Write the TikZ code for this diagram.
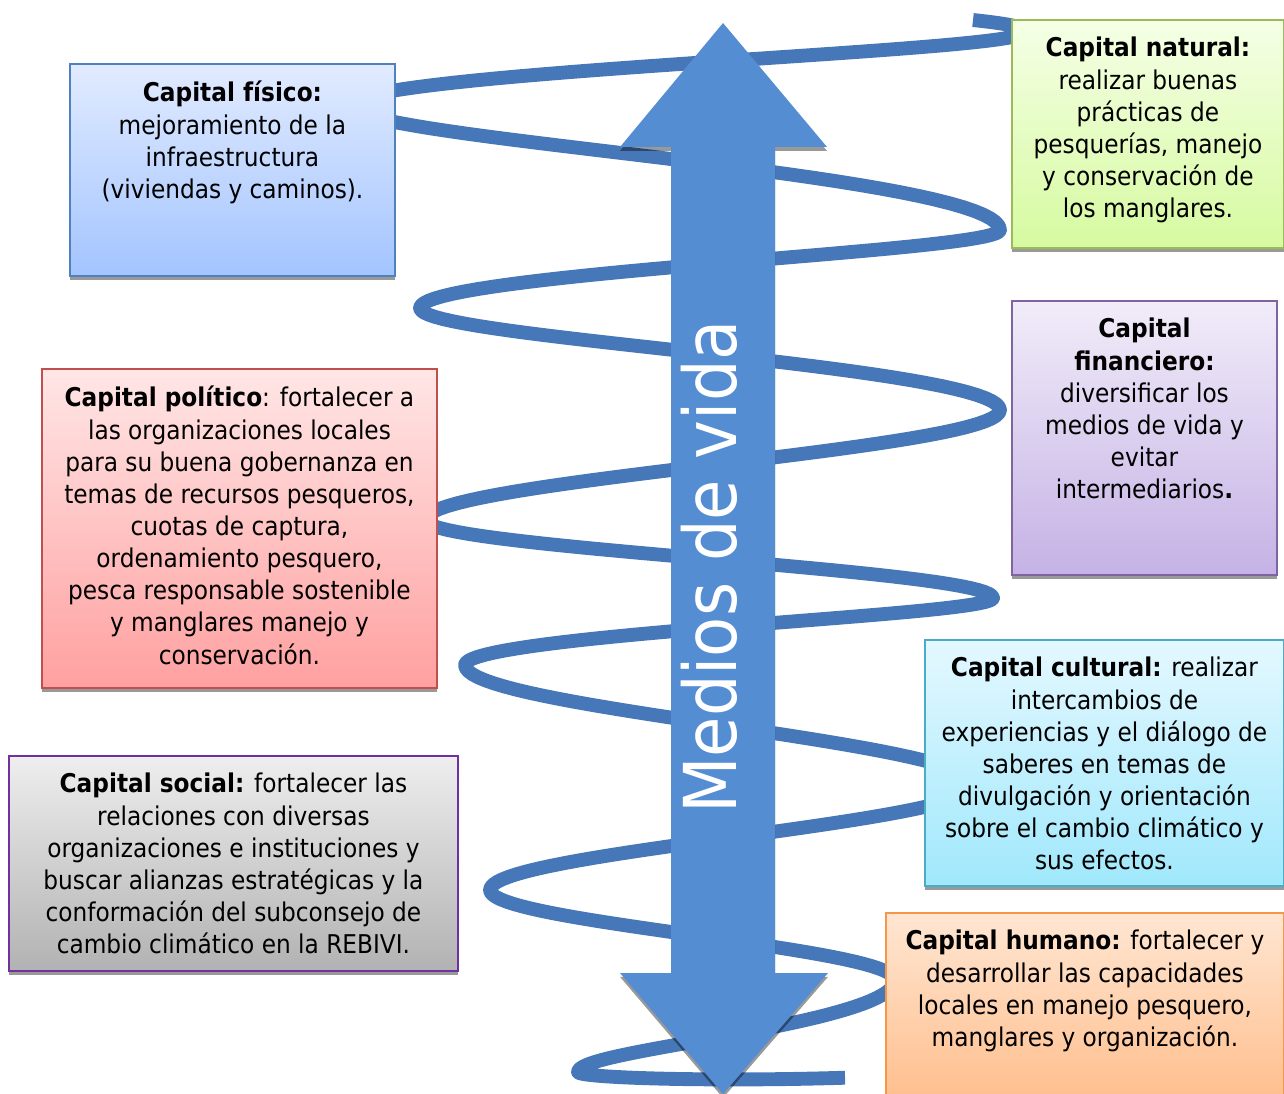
\documentclass[tikz,border=0pt]{standalone}
\usepackage{fontspec}
\setmainfont{DejaVu Sans}[FakeStretch=0.9]
\usetikzlibrary{shadows, positioning}
\definecolor{bandblue}{RGB}{70,120,185}
\definecolor{arrowblue}{RGB}{85,141,211}
\definecolor{fisline}{RGB}{79,129,189}
\definecolor{fistop}{RGB}{225,235,255}
\definecolor{fisbot}{RGB}{163,196,255}
\definecolor{natline}{RGB}{155,187,89}
\definecolor{nattop}{RGB}{245,255,230}
\definecolor{natbot}{RGB}{214,250,160}
\definecolor{finline}{RGB}{128,100,162}
\definecolor{fintop}{RGB}{241,236,249}
\definecolor{finbot}{RGB}{197,178,229}
\definecolor{polline}{RGB}{192,80,77}
\definecolor{poltop}{RGB}{255,230,230}
\definecolor{polbot}{RGB}{255,160,160}
\definecolor{socline}{RGB}{112,48,160}
\definecolor{soctop}{RGB}{238,238,238}
\definecolor{socbot}{RGB}{178,178,178}
\definecolor{culline}{RGB}{75,172,198}
\definecolor{cultop}{RGB}{228,248,255}
\definecolor{culbot}{RGB}{160,232,252}
\definecolor{humline}{RGB}{247,150,70}
\definecolor{humtop}{RGB}{255,230,210}
\definecolor{humbot}{RGB}{255,190,140}

\begin{document}
\begin{tikzpicture}[x=0.02cm, y=-0.02cm,
	band/.style={draw=bandblue, line width=7.9pt, line join=round},
	shade/.style={drop shadow={shadow xshift=0pt, shadow yshift=-2.2pt, opacity=.4, fill=black}},
	capbox/.style={rectangle, line width=1.1pt, inner sep=0, anchor=north west, shade},
	captext/.style={align=center, inner sep=0, font=\fontsize{14.7}{18.3}\selectfont}]
\useasboundingbox (0,0) rectangle (1284,1094);

% spiral, half turn by half turn
\draw[band] (973,20) .. controls (1000,23) and (1025,26) .. (1025,32)
	foreach \xa/\ya/\xb/\yb/\bb/\te in {1025/32/350/105/-5/180, 350/105/1000/230/-8/180,
		1000/230/420/308/-5/180, 420/308/1000/410/-5/180, 1000/410/425/520/0/180,
		425/520/993/598/0/180, 993/598/465/665/-5/180, 465/665/975/785/0/180,
		975/785/490/890/0/180, 490/890/895/980/0/180, 895/980/578/1072/8/180,
		578/1072/1000/1062/12/105.4}
	{ -- plot[domain=0:\te, samples=40, variable=\t]
		({\xa+(\xb-\xa)*(1-cos(\t))/2}, {\ya+(\yb-\ya)/180*\t+\bb*sin(\t)}) };

% double arrow
\fill[arrowblue, shade] (671,147) -- (620,147) -- (723,23) -- (827,147) -- (775,147)
	-- (775,973) -- (828,973) -- (723,1094) -- (620,973) -- (671,973) -- cycle;
\node[rotate=90, white, inner sep=0, font=\fontsize{41.5}{50}\selectfont] (medios) at (709,567) {Medios de vida};

% capital boxes
\node[capbox, draw=fisline, top color=fistop, bottom color=fisbot, minimum width=6.5cm, minimum height=4.24cm] (fisico) at (69,63) {};
\node[capbox, draw=natline, top color=nattop, bottom color=natbot, minimum width=5.44cm, minimum height=4.56cm] (natural) at (1011,19) {};
\node[capbox, draw=finline, top color=fintop, bottom color=finbot, minimum width=5.3cm, minimum height=5.48cm] (financiero) at (1011,300) {};
\node[capbox, draw=polline, top color=poltop, bottom color=polbot, minimum width=7.9cm, minimum height=6.38cm] (politico) at (41,368) {};
\node[capbox, draw=socline, top color=soctop, bottom color=socbot, minimum width=8.98cm, minimum height=4.3cm] (social) at (8,755) {};
\node[capbox, draw=culline, top color=cultop, bottom color=culbot, minimum width=7.18cm, minimum height=4.92cm] (cultural) at (924,639) {};
\node[capbox, draw=humline, top color=humtop, bottom color=humbot, minimum width=7.96cm, minimum height=3.8cm] (humano) at (885,912) {};

\node[captext, below=10.2pt of fisico.north] (fisicotxt) {\textbf{Capital físico:}\\ mejoramiento de la\\ infraestructura\\ (viviendas y caminos).};
\node[captext, below=10.2pt of natural.north] (naturaltxt) {\textbf{Capital natural:}\\ realizar buenas\\ prácticas de\\ pesquerías, manejo\\ y conservación de\\ los manglares.};
\node[captext, below=10.2pt of financiero.north] (financierotxt) {\textbf{Capital}\\ \textbf{financiero:}\\ diversificar los\\ medios de vida y\\ evitar\\ intermediarios\textbf{.}};
\node[captext, below=10.2pt of politico.north] (politicotxt) {\textbf{Capital político}: fortalecer a\\ las organizaciones locales\\ para su buena gobernanza en\\ temas de recursos pesqueros,\\ cuotas de captura,\\ ordenamiento pesquero,\\ pesca responsable sostenible\\ y manglares manejo y\\ conservación.};
\node[captext, below=10.2pt of social.north] (socialtxt) {\textbf{Capital social:} fortalecer las\\ relaciones con diversas\\ organizaciones e instituciones y\\ buscar alianzas estratégicas y la\\ conformación del subconsejo de\\ cambio climático en la REBIVI.};
\node[captext, below=10.2pt of cultural.north] (culturaltxt) {\textbf{Capital cultural:} realizar\\ intercambios de\\ experiencias y el diálogo de\\ saberes en temas de\\ divulgación y orientación\\ sobre el cambio climático y\\ sus efectos.};
\node[captext, below=10.2pt of humano.north] (humanotxt) {\textbf{Capital humano:} fortalecer y\\ desarrollar las capacidades\\ locales en manejo pesquero,\\ manglares y organización.};
\end{tikzpicture}
\end{document}
